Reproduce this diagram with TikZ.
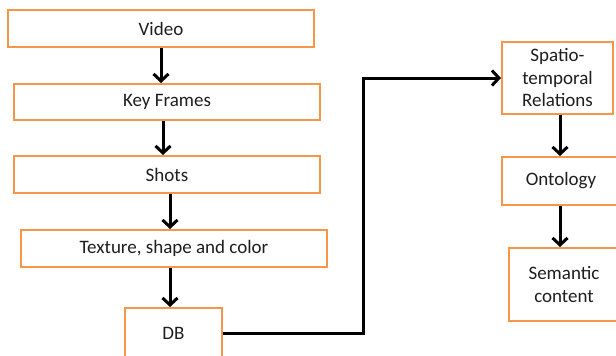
\documentclass[tikz,border=0pt]{standalone}
\usepackage{fontspec}
\setmainfont{Carlito}
\usetikzlibrary{arrows.meta}
\definecolor{boxorange}{RGB}{247,150,70}
\definecolor{txtgray}{RGB}{30,30,30}
\begin{document}
\begin{tikzpicture}[x=1pt,y=-1pt,
  every node/.style={font=\fontsize{19}{22.5}\selectfont,text=txtgray},
  stagebox/.style={draw=boxorange,line width=2pt,fill=white,inner sep=0pt,align=center},
  flow/.style={-{Straight Barb[length=7pt,width=15pt]},line width=3pt}]
\useasboundingbox (0,0) rectangle (616,356);
\clip (0,0) rectangle (616,356);
% left column
\node[stagebox,minimum width=306pt,minimum height=37pt] (video) at (161,28.5) {Video};
\node[stagebox,minimum width=306pt,minimum height=36pt] (keyf) at (167,102) {Key Frames};
\node[stagebox,minimum width=306pt,minimum height=37pt] (shots) at (167,174.5) {Shots};
\node[stagebox,minimum width=306pt,minimum height=37pt] (feat) at (174,248.5) {Texture, shape and color};
\node[stagebox,minimum width=97pt,minimum height=50pt] (db) at (173.5,333) {DB};
% right column
\node[stagebox,minimum width=111pt,minimum height=72pt] (spatio) at (557.5,78) {Spatio-\\temporal\\Relations};
\node[stagebox,minimum width=118pt,minimum height=48pt] (onto) at (561,181) {Ontology};
\node[stagebox,minimum width=110pt,minimum height=73pt] (sem) at (564,284.5) {Semantic\\content};
% arrows
\draw[flow] (video.south) -- (video.south |- keyf.north);
\draw[flow] ([xshift=-4pt]keyf.south) -- ([xshift=-4pt]keyf.south |- shots.north);
\draw[flow] ([xshift=3pt]shots.south) -- ([xshift=3pt]shots.south |- feat.north);
\draw[flow] ([xshift=-4pt]feat.south) -- ([xshift=-4pt]feat.south |- db.north);
\draw[flow] (db.east) -- ++(140,0) |- (spatio.west);
\draw[flow] ([xshift=2.5pt]spatio.south) -- ([xshift=2.5pt]spatio.south |- onto.north);
\draw[flow] ([xshift=-1pt]onto.south) -- ([xshift=-1pt]onto.south |- sem.north);
\end{tikzpicture}
\end{document}
